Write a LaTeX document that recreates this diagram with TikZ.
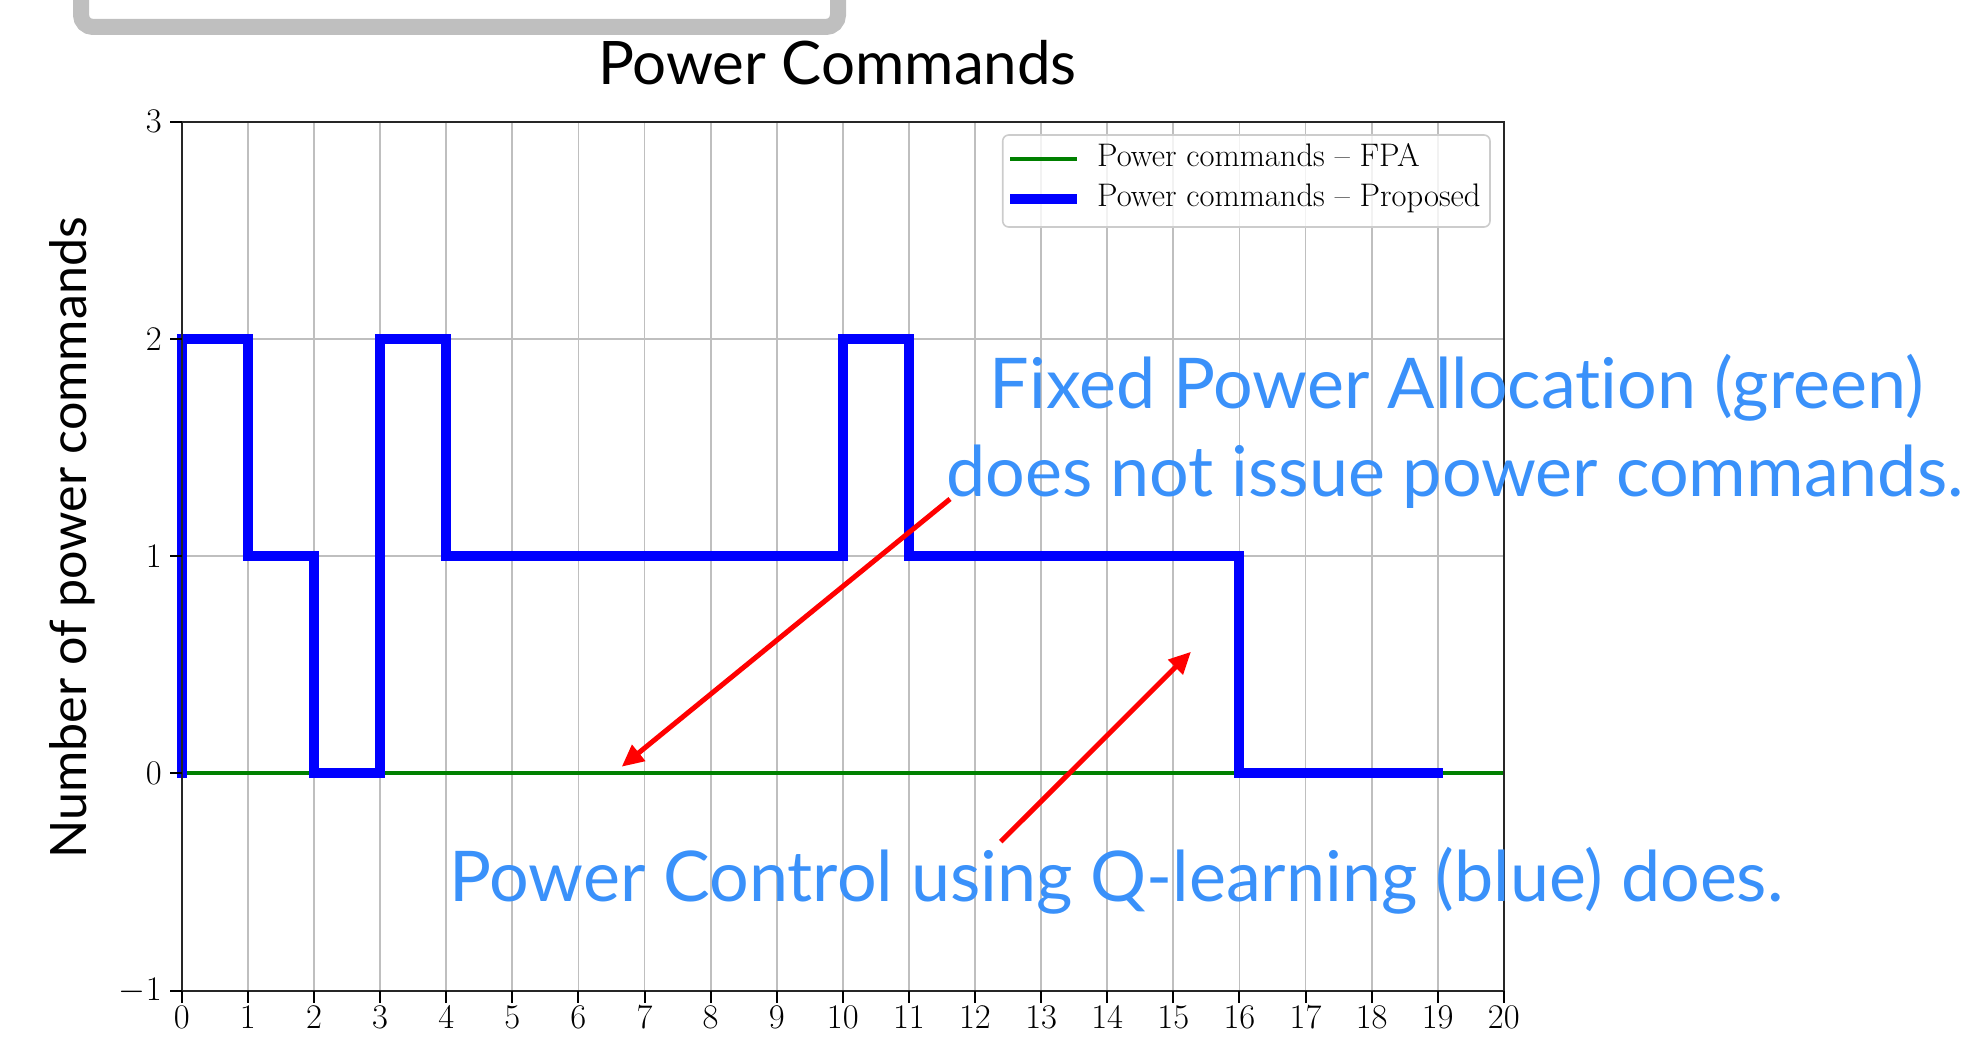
\documentclass[tikz,border=0pt]{standalone}
\usepackage{fontspec}
\usepackage{tikz}
\usetikzlibrary{arrows.meta}
\newfontfamily\slidefont{Lato}[Ligatures=NoCommon]
\definecolor{slideblue}{RGB}{58,145,250}
\definecolor{plotgreen}{RGB}{0,128,0}
\definecolor{framegray}{RGB}{191,191,191}
\tikzset{
  ticklabel/.style={inner sep=0pt,font=\fontsize{16.3}{19}\selectfont},
  gridline/.style={black!25,line width=0.9pt},
  note/.style={slideblue,inner sep=0pt,anchor=base,font=\slidefont\fontsize{35}{41}\selectfont},
  pointer/.style={red,line width=2.5pt,-{Triangle[length=11pt,width=10pt]}},
}

\begin{document}
\begin{tikzpicture}[x=0.5pt,y=-0.5pt]
  % Constants
  \pgfmathsetmacro\ox{181.8}
  \pgfmathsetmacro\oy{773.3}
  \pgfmathsetmacro\sx{66.1*0.5}
  \pgfmathsetmacro\sy{217.2*0.5}
  % Boundary
  \path[use as bounding box] (0,0) rectangle (1962,1038);
  % Slide frame
  \draw[framegray,line width=8pt,rounded corners=6pt] (81,-60) rectangle (838,27);
  % Titles
  \node[inner sep=0pt,anchor=base,font=\slidefont\fontsize{30}{35}\selectfont] (title) at (837.4,85) {Power Commands};
  \node[inner sep=0pt,anchor=base,rotate=90,font=\slidefont\fontsize{25.1}{29}\selectfont] (ylabel) at (86.7,538) {Number of power commands};
  % Axes
  \begin{scope}[shift={(\ox,\oy)},x=\sx pt,y=\sy pt]
    \foreach \i in {0,...,20}
      \draw[gridline] (\i,-1) -- (\i,3);
    \foreach \j in {-1,...,3}
      \draw[gridline] (0,\j) -- (20,\j);
    \draw[plotgreen,line width=2pt] (0,0) -- (20,0);
    \draw[blue,line width=5pt,line cap=rect] (0,0) -- (0,2) -- (1,2) -- (1,1) -- (2,1) -- (2,0) -- (3,0) -- (3,2) -- (4,2) -- (4,1)
      -- (10,1) -- (10,2) -- (11,2) -- (11,1) -- (16,1) -- (16,0) -- (19,0);
    \draw[black!85,line width=1pt] (0,-1) rectangle (20,3);
    \foreach \i in {0,...,20} {
      \draw[line width=1pt] (\i,-1) -- ++(0,-6pt);
      \node[ticklabel,anchor=base,yshift=-19pt] (xt\i) at (\i,-1) {$\i$};
    }
    \foreach \j in {-1,...,3} {
      \draw[line width=1pt] (0,\j) -- ++(-6pt,0);
      \node[ticklabel,anchor=east,xshift=-9.9pt] (yt\j) at (0,\j) {$\j$};
    }
  \end{scope}
  % Legend
  \draw[black!20,fill=white,fill opacity=0.8,rounded corners=3pt,line width=0.8pt] (1002.7,135) rectangle (1490,227);
  \draw[plotgreen,line width=2pt] (1010,159.3) -- (1076.7,159.3);
  \draw[blue,line width=5pt] (1010,199) -- (1077,199);
  \node[ticklabel,anchor=base west] (fpakey) at (1096.7,166.7) {Power commands -- FPA};
  \node[ticklabel,anchor=base west] (propkey) at (1096.7,206) {Power commands -- Proposed};
  % Annotations
  \coordinate (fpatail) at (950,499);
  \coordinate (fpatip) at (621.7,766.7);
  \coordinate (qltail) at (1000.7,841.7);
  \coordinate (qltip) at (1191,651.7);
  \draw[pointer] (fpatail) -- (fpatip);
  \draw[pointer] (qltail) -- (qltip);
  \node[note] (fpanote) at (1456.7,408.3) {Fixed Power Allocation (green)};
  \node[note] (fpanote2) at (1455,496.7) {does not issue power commands.};
  \node[note] (qlnote) at (1116.4,901.7) {Power Control using Q-learning (blue) does.};
\end{tikzpicture}
\end{document}
